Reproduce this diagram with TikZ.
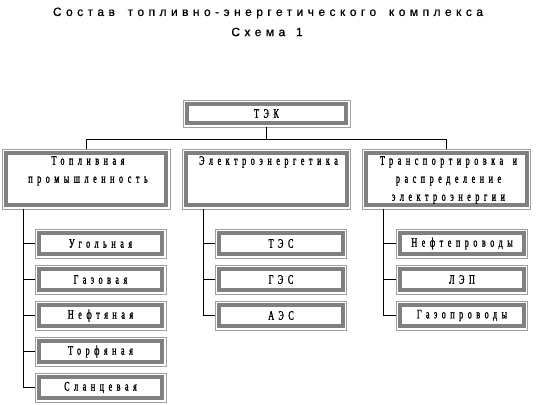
\documentclass[tikz,border=0pt]{standalone}
\usepackage{fontspec}
\newfontfamily\boxfont[FakeStretch=0.62,LetterSpace=35,FakeBold=1.4]{Liberation Serif}
\newfontfamily\titlefont[LetterSpace=37,FakeBold=0.9]{Liberation Sans}
\definecolor{fgray}{HTML}{808080}
\definecolor{lgray}{HTML}{A0A0A0}
\tikzset{
  frm/.style={draw=lgray, line width=0.8pt, inner sep=0pt,
    path picture={\draw[line width=4pt, draw=fgray]
      ([shift={(3.8pt,-3.8pt)}]path picture bounding box.north west) rectangle
      ([shift={(-3.8pt,3.8pt)}]path picture bounding box.south east);}},
  topbox/.style={frm, minimum width=168pt, minimum height=60pt},
  kid/.style={frm, minimum width=131pt, minimum height=29pt, font=\boxfont\fontsize{13}{15}\selectfont},
  lbl/.style={anchor=north, inner sep=0pt, align=center, font=\boxfont\fontsize{13}{18}\selectfont},
  conn/.style={draw=black, line width=1pt},
}
\begin{document}
\begin{tikzpicture}[x=1pt,y=-1pt]
\path[use as bounding box] (0,0) rectangle (553,404);
% title
\node[inner sep=0pt, font=\titlefont\fontsize{12}{14}\selectfont] (t1) at (268,13) {Состав\hspace{5pt} топливно-энергетического\hspace{5pt} комплекса};
\node[inner sep=0pt, font=\titlefont\fontsize{12}{14}\selectfont] (t2) at (267,32) {Схема\hspace{3pt} 1};
% top
\node[frm, minimum width=167pt, minimum height=27pt, font=\boxfont\fontsize{13}{15}\selectfont] (tek) at (266.5,113.5) {ТЭК};
\node[topbox] (b1) at (86,179) {};
\node[topbox] (b2) at (266.5,179) {};
\node[topbox] (b3) at (446.5,179) {};
\node[lbl] (l1) at (88,156) {Топливная\\промышленность};
\node[lbl] (l2) at (268.5,156) {Электроэнергетика};
\node[lbl] (l3) at (448.5,156) {Транспортировка\hspace{3pt} и\\распределение\\электроэнергии};
% children
\node[kid] (c11) at (100.5,243.5) {Угольная};
\node[kid] (c12) at (100.5,279.5) {Газовая};
\node[kid] (c13) at (100.5,315.5) {Нефтяная};
\node[kid] (c14) at (100.5,351.5) {Торфяная};
\node[kid] (c15) at (100.5,387.5) {Сланцевая};
\node[kid] (c21) at (281,243.5) {ТЭС};
\node[kid] (c22) at (281,279.5) {ГЭС};
\node[kid] (c23) at (281,315.5) {АЭС};
\node[kid] (c31) at (462,243.5) {Нефтепроводы};
\node[kid] (c32) at (462,279.5) {ЛЭП};
\node[kid] (c33) at (462,315.5) {Газопроводы};
% connectors
\coordinate (h) at (0,139);
\draw[conn] (tek.south) -- (tek.south |- h);
\draw[conn] (b1.north) |- (h -| b3.north) -- (b3.north);
\coordinate (v1) at (23,209);
\coordinate (v2) at (203,209);
\coordinate (v3) at (383,209);
\draw[conn] (v1) |- (c15.west);
\draw[conn] (v2) |- (c23.west);
\draw[conn] (v3) |- (c33.west);
\foreach \c in {c11,c12,c13,c14} {\draw[conn] (\c.west) -- (\c.west -| v1);}
\foreach \c in {c21,c22} {\draw[conn] (\c.west) -- (\c.west -| v2);}
\foreach \c in {c31,c32} {\draw[conn] (\c.west) -- (\c.west -| v3);}
\end{tikzpicture}
\end{document}
